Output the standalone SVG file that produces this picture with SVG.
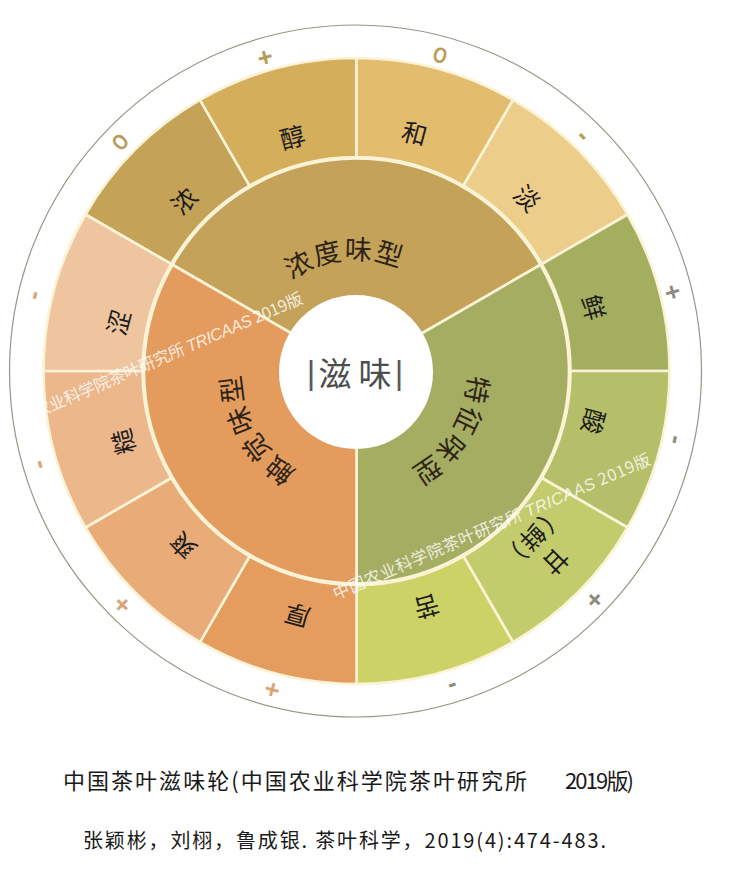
<svg xmlns="http://www.w3.org/2000/svg" width="741" height="879" viewBox="0 0 741 879">
<style>
.seg{stroke:#fbf3d6;stroke-width:2.6;stroke-linejoin:round}
.lbl{font-family:"Noto Sans CJK SC",sans-serif;font-size:25px;fill:#1c1c1c;text-anchor:middle;dominant-baseline:central}
.mk{font-family:"Liberation Sans",sans-serif;font-size:26px;font-weight:bold;text-anchor:middle;dominant-baseline:central}
.o{font-size:22px}
.gold{fill:#b99b57}
.grey{fill:#8e8d7e}
.tan{fill:#d8a573}
.ring{font-family:"Noto Sans CJK SC",sans-serif;font-size:27px;fill:#2e2416;dominant-baseline:central}
.ctr{font-family:"Noto Sans CJK SC",sans-serif;font-size:33px;fill:#4d4d4d;text-anchor:middle;dominant-baseline:central}
.bar{font-family:"Liberation Sans",sans-serif;font-size:33px;fill:#5a5a5a;text-anchor:middle;dominant-baseline:central}
.wm{font-family:"Noto Sans CJK SC","Liberation Sans",sans-serif;font-size:16.5px;fill:#ffffff;fill-opacity:0.8}
.cap{font-family:"Noto Sans CJK SC",sans-serif;fill:#1a1a1a}
</style>
<defs>
<path id="pTop" d="M 269.17,283.67 A 123.5 123.5 0 0 1 427.34,269.83"/>
<path id="pRight" d="M 478.62,349.47 A 124 124 0 0 1 408.9,483.38"/>
<path id="pLeft" d="M 302.4,487 A 128 128 0 0 1 229,359.8"/>
</defs>
<rect width="741" height="879" fill="#ffffff"/>
<circle cx="356.5" cy="371" r="215" fill="#fbf3d6"/>

<g id="inner-ring">
<g id="n-nongdu">
<path class="seg" fill="#c4a25a" d="M 356.5,371 L 172.47,264.75 A 212.5 212.5 0 0 1 540.53,264.75 Z"/>
<text class="ring"><textPath href="#pTop" startOffset="21.8" letter-spacing="4.7">浓度味型</textPath></text>
</g>
<g id="n-tezheng">
<path class="seg" fill="#a4ad62" d="M 356.5,371 L 540.53,264.75 A 212.5 212.5 0 0 1 356.5,583.5 Z"/>
<text class="ring"><textPath href="#pRight" startOffset="27.3" letter-spacing="5.7">特征味型</textPath></text>
</g>
<g id="n-chujue">
<path class="seg" fill="#e49c5e" d="M 356.5,371 L 356.5,583.5 A 212.5 212.5 0 0 1 172.47,264.75 Z"/>
<text class="ring"><textPath href="#pLeft" startOffset="14.85" letter-spacing="5.6">触觉味型</textPath></text>
</g>
</g>

<g id="outer-ring">
<g id="n-nong">
<path class="seg" fill="#c4a257" d="M 85.43,214.5 A 313 313 0 0 1 200,99.93 L 249.5,185.67 A 214 214 0 0 0 171.17,264 Z"/>
<text class="lbl" transform="translate(183,200) rotate(-45)">浓</text>
<text class="mk o gold" transform="translate(120,142) rotate(-45) scale(0.8,1)">O</text>
</g>
<g id="n-chun">
<path class="seg" fill="#d4ae5b" d="M 200,99.93 A 313 313 0 0 1 356.5,58 L 356.5,157 A 214 214 0 0 0 249.5,185.67 Z"/>
<text class="lbl" transform="translate(292,136) rotate(-15)">醇</text>
<text class="mk gold" transform="translate(265,57) rotate(-15)">+</text>
</g>
<g id="n-he">
<path class="seg" fill="#e3bd6e" d="M 356.5,58 A 313 313 0 0 1 513,99.93 L 463.5,185.67 A 214 214 0 0 0 356.5,157 Z"/>
<text class="lbl" transform="translate(415,132) rotate(15)">和</text>
<text class="mk o gold" transform="translate(440,55) rotate(15) scale(0.8,1)">O</text>
</g>
<g id="n-dan">
<path class="seg" fill="#eccd8a" d="M 513,99.93 A 313 313 0 0 1 627.57,214.5 L 541.83,264 A 214 214 0 0 0 463.5,185.67 Z"/>
<text class="lbl" transform="translate(528,197) rotate(45)">淡</text>
<text class="mk gold" transform="translate(584,135) rotate(45)">-</text>
</g>
<g id="n-xian">
<path class="seg" fill="#a3ae5f" d="M 627.57,214.5 A 313 313 0 0 1 669.5,371 L 570.5,371 A 214 214 0 0 0 541.83,264 Z"/>
<text class="lbl" transform="translate(595,307) rotate(75)">鲜</text>
<text class="mk grey" transform="translate(673,292) rotate(75)">+</text>
</g>
<g id="n-suan">
<path class="seg" fill="#b5be68" d="M 669.5,371 A 313 313 0 0 1 627.57,527.5 L 541.83,478 A 214 214 0 0 0 570.5,371 Z"/>
<text class="lbl" transform="translate(595,422) rotate(105)">酸</text>
<text class="mk grey" transform="translate(677,440) rotate(102)">-</text>
</g>
<g id="n-gan">
<path class="seg" fill="#c3cc6c" d="M 627.57,527.5 A 313 313 0 0 1 513,642.07 L 463.5,556.33 A 214 214 0 0 0 541.83,478 Z"/>
<text class="lbl" transform="translate(545,551) rotate(135)"><tspan x="0" y="-16.5">甘</tspan><tspan x="0" y="16.5" letter-spacing="2">（鲜）</tspan></text>
<text class="mk grey" transform="translate(595,600) rotate(134)">+</text>
</g>
<g id="n-ku">
<path class="seg" fill="#cdd267" d="M 513,642.07 A 313 313 0 0 1 356.5,684 L 356.5,585 A 214 214 0 0 0 463.5,556.33 Z"/>
<text class="lbl" transform="translate(427,608) rotate(165)">苦</text>
<text class="mk grey" transform="translate(453,687) rotate(163)">-</text>
</g>
<g id="n-hou">
<path class="seg" fill="#e49d5f" d="M 356.5,684 A 313 313 0 0 1 200,642.07 L 249.5,556.33 A 214 214 0 0 0 356.5,585 Z"/>
<text class="lbl" transform="translate(297,617) rotate(195)">厚</text>
<text class="mk tan" transform="translate(272,690) rotate(195)">+</text>
</g>
<g id="n-shuang">
<path class="seg" fill="#e9ac79" d="M 200,642.07 A 313 313 0 0 1 85.43,527.5 L 171.17,478 A 214 214 0 0 0 249.5,556.33 Z"/>
<text class="lbl" transform="translate(182,547) rotate(225)">爽</text>
<text class="mk tan" transform="translate(122,605) rotate(225)">+</text>
</g>
<g id="n-cao">
<path class="seg" fill="#ebb78b" d="M 85.43,527.5 A 313 313 0 0 1 43.5,371 L 142.5,371 A 214 214 0 0 0 171.17,478 Z"/>
<text class="lbl" transform="translate(122,442) rotate(255)">糙</text>
<text class="mk tan" transform="translate(38,465) rotate(254)">-</text>
</g>
<g id="n-se">
<path class="seg" fill="#efc59f" d="M 43.5,371 A 313 313 0 0 1 85.43,214.5 L 171.17,264 A 214 214 0 0 0 142.5,371 Z"/>
<text class="lbl" transform="translate(117,322) rotate(285)">涩</text>
<text class="mk tan" transform="translate(33,295) rotate(283)">-</text>
</g>
</g>

<g id="n-center">
<circle cx="356" cy="372" r="77" fill="#ffffff"/>
<text class="bar" x="311" y="372">|</text>
<text class="ctr" x="355" y="372">滋<tspan dx="7">味</tspan></text>
<text class="bar" x="399" y="372">|</text>
</g>

<g id="watermark">
<text class="wm" transform="translate(7.4,430.6) rotate(-23.3)" textLength="323" lengthAdjust="spacing">中国农业科学院茶叶研究所 <tspan font-family="Liberation Sans,sans-serif" font-style="italic">TRICAAS</tspan> 2019版</text>
<text class="wm" transform="translate(336,600) rotate(-23.3)" textLength="344" lengthAdjust="spacing">中国农业科学院茶叶研究所 <tspan font-family="Liberation Sans,sans-serif" font-style="italic">TRICAAS</tspan> 2019版</text>
</g>

<circle id="outer-circle" cx="355.5" cy="371" r="346" fill="none" stroke="#9a9484" stroke-width="1.2"/>

<g id="caption">
<text class="cap" x="63" y="789" font-size="22" textLength="464" lengthAdjust="spacing">中国茶叶滋味轮(中国农业科学院茶叶研究所</text>
<text class="cap" x="565" y="789" font-size="22" textLength="69" lengthAdjust="spacing">2019版)</text>
<text class="cap" x="83" y="848" font-size="20" textLength="523" lengthAdjust="spacing">张颖彬，刘栩，鲁成银. 茶叶科学，2019(4):474-483.</text>
</g>
</svg>
